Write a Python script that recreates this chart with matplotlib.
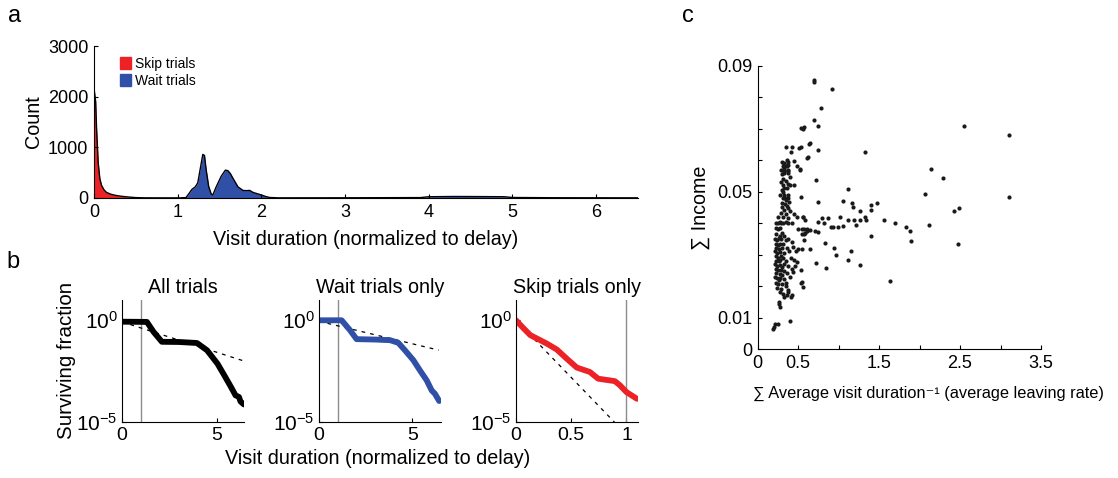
import numpy as np
import matplotlib
matplotlib.use("Agg")
import matplotlib.pyplot as plt
from matplotlib.patches import Patch

plt.rcParams['font.family'] = ['Liberation Sans', 'DejaVu Sans']
plt.rcParams['mathtext.default'] = 'regular'

W, H = 1118, 478

# --- panel a: histogram outlines (visit duration, count) ---
skip_x = [0, 0.005, 0.02, 0.03, 0.05, 0.07, 0.09, 0.12, 0.15, 0.2, 0.25, 0.3, 0.35, 0.42, 0.5, 0.6, 1.1]
skip_count = [2150, 2100, 1900, 1400, 700, 380, 250, 160, 110, 75, 55, 40, 30, 18, 8, 3, 2]

wait_x = [1.05, 1.10, 1.14, 1.17, 1.21, 1.24, 1.27, 1.30, 1.32, 1.34, 1.37, 1.40, 1.42, 1.46,
          1.52, 1.57, 1.60, 1.63, 1.66, 1.72, 1.78, 1.82, 1.86, 1.90, 1.95, 2.0, 2.05, 2.1,
          2.2, 3.0, 3.9, 4.0, 4.3, 4.6, 4.9, 5.0, 5.5, 6.5]
wait_count = [0, 10, 100, 170, 220, 300, 580, 860, 840, 560, 230, 80, 60, 220,
              430, 550, 540, 480, 390, 220, 150, 145, 150, 110, 85, 60, 30, 10,
              3, 4, 8, 25, 30, 28, 25, 10, 5, 3]

# --- panel b: survival curves (log10 surviving fraction) ---
all_x = [0, 1.31, 1.66, 2.10, 3.0, 3.95, 4.48, 5.03, 5.38, 5.74, 5.98, 6.16, 6.24, 6.42]
all_logy = [-0.07, -0.08, -0.57, -1.06, -1.07, -1.12, -1.48, -2.14, -2.70, -3.29, -3.70, -3.78, -4.0, -4.15]
all_fit_x = [0, 6.4]
all_fit_logy = [-0.08, -2.0]

wait_surv_x = [0, 1.21, 1.66, 2.01, 3.0, 3.80, 4.24, 4.6, 5.05, 5.4, 5.76, 6.03, 6.2, 6.43]
wait_surv_logy = [0.0, 0.0, -0.49, -0.93, -0.95, -0.98, -1.11, -1.48, -1.97, -2.47, -2.96, -3.46, -3.62, -3.98]
wait_fit_x = [0, 6.4]
wait_fit_logy = [-0.05, -1.47]

skip_surv_x = [0, 0.069, 0.129, 0.279, 0.369, 0.459, 0.55, 0.669, 0.744, 0.895, 0.94, 1.0, 1.095]
skip_surv_logy = [0.0, -0.40, -0.73, -1.15, -1.44, -1.89, -2.33, -2.55, -2.88, -3.0, -3.2, -3.54, -3.87]
skip_fit_x = [0, 1.1]
skip_fit_logy = [0.0, -6.2]

# --- panel c: income vs leaving rate ---
rate = [0.69, 0.69, 0.92, 0.78, 0.69, 0.75, 0.54, 0.56, 0.57, 2.55, 3.10,
        0.35, 0.42, 0.51, 0.53, 0.63, 0.64, 0.74, 1.33, 0.61, 0.62, 0.45, 2.14, 0.52, 2.29, 0.72,
        1.11, 2.07, 3.11, 0.53, 1.05, 1.16, 1.48, 1.40, 0.74, 1.18, 1.27, 1.40, 2.49, 2.43,
        1.02, 1.11, 1.19, 1.26, 1.33, 1.34, 0.79, 0.87, 0.56, 1.56, 1.70, 1.21, 1.05, 0.99,
        0.90, 0.93, 1.83, 1.88, 2.12, 0.82, 0.74, 0.61, 0.65, 0.71, 0.75, 0.58, 1.40, 1.89,
        0.83, 2.47, 0.57, 0.55, 0.65, 0.94, 1.15, 0.97, 0.72, 1.12, 1.26, 0.84, 1.63, 0.54,
        0.56, 0.40,
        0.50, 0.55, 0.57, 0.61, 0.55, 0.57, 0.50, 0.47, 0.49, 0.53, 0.55, 0.37, 0.37, 0.36,
        0.42, 0.26, 0.26, 0.27, 0.21, 0.25, 0.20, 0.19,
        0.33, 0.33, 0.34, 0.33, 0.33, 0.32, 0.33, 0.37, 0.37, 0.38, 0.49, 0.52, 0.41, 0.45,
        0.40, 0.35, 0.37, 0.40, 0.36, 0.31, 0.31, 0.32, 0.34, 0.38, 0.37,
        0.35, 0.39, 0.30, 0.34, 0.36, 0.30, 0.38, 0.32, 0.29, 0.40, 0.35, 0.25, 0.31, 0.38,
        0.27, 0.22, 0.29, 0.35, 0.45, 0.49, 0.56, 0.58, 0.25, 0.31, 0.37, 0.42,
        0.22, 0.25, 0.28, 0.30, 0.23, 0.27, 0.33, 0.21, 0.24, 0.26, 0.29, 0.35, 0.38, 0.22,
        0.25, 0.28, 0.31, 0.42, 0.23, 0.26, 0.30, 0.36, 0.44, 0.21, 0.24, 0.27, 0.33, 0.39,
        0.22, 0.25, 0.29, 0.31, 0.41, 0.23, 0.26, 0.28, 0.35, 0.45, 0.21, 0.24, 0.27, 0.30,
        0.33, 0.38, 0.22, 0.25, 0.29, 0.32, 0.42, 0.23, 0.27, 0.30, 0.36, 0.21, 0.24, 0.26,
        0.28, 0.33, 0.40, 0.22, 0.25, 0.30, 0.35, 0.24, 0.29, 0.27, 0.31, 0.33, 0.41, 0.35,
        0.44, 0.46,
        0.30, 0.31, 0.29, 0.32, 0.30, 0.31, 0.29, 0.32, 0.30, 0.28, 0.31, 0.36, 0.37, 0.38, 0.36]
income = [0.0855, 0.0848, 0.0826, 0.0765, 0.0727, 0.0709, 0.0702, 0.0698, 0.0705, 0.0709, 0.0681,
          0.0643, 0.0643, 0.0637, 0.0642, 0.0650, 0.0653, 0.0632, 0.0625, 0.0606, 0.0609, 0.0598,
          0.0571, 0.0572, 0.0543, 0.0537,
          0.0509, 0.0492, 0.0482, 0.0482, 0.0471, 0.0465, 0.0465, 0.0458, 0.0466, 0.0450, 0.0437,
          0.0442, 0.0448, 0.0438,
          0.0420, 0.0410, 0.0410, 0.0410, 0.0420, 0.0410, 0.0415, 0.0415, 0.0420, 0.0410, 0.0399,
          0.0393, 0.0390, 0.0389,
          0.0386, 0.0386, 0.0388, 0.0376, 0.0393, 0.0399, 0.0403, 0.0376, 0.0378, 0.0376, 0.0373,
          0.0370, 0.0360, 0.0344,
          0.0338, 0.0332, 0.0346, 0.0317, 0.0317, 0.0320, 0.0310, 0.0298, 0.0272, 0.0283, 0.0266,
          0.0256, 0.0216, 0.0211,
          0.0196, 0.0089,
          0.0380, 0.0380, 0.0380, 0.0380, 0.0365, 0.0365, 0.0318, 0.0310, 0.0275, 0.0250, 0.0213,
          0.0187, 0.0180, 0.0172,
          0.0170, 0.0150, 0.0142, 0.0133, 0.0080, 0.0078, 0.0070, 0.0062,
          0.0590, 0.0587, 0.0580, 0.0575, 0.0570, 0.0565, 0.0560, 0.0570, 0.0565, 0.0560, 0.0580,
          0.0570, 0.0626, 0.0520,
          0.0545, 0.0535, 0.0525, 0.0520, 0.0510, 0.0520, 0.0500, 0.0490, 0.0480, 0.0490, 0.0480,
          0.0472, 0.0467, 0.0465, 0.0460, 0.0455, 0.0450, 0.0447, 0.0443, 0.0433, 0.0437, 0.0430,
          0.0420, 0.0418, 0.0415,
          0.0405, 0.0400, 0.0400, 0.0405, 0.0430, 0.0420, 0.0420, 0.0410, 0.0400, 0.0400, 0.0400,
          0.0400,
          0.0385, 0.0380, 0.0385, 0.0370, 0.0365, 0.0360, 0.0360, 0.0350, 0.0345, 0.0352, 0.0348,
          0.0345, 0.0350, 0.0335,
          0.0330, 0.0333, 0.0335, 0.0340, 0.0320, 0.0318, 0.0320, 0.0322, 0.0325, 0.0310, 0.0305,
          0.0308, 0.0305, 0.0310,
          0.0295, 0.0290, 0.0295, 0.0288, 0.0290, 0.0280, 0.0278, 0.0282, 0.0280, 0.0282, 0.0270,
          0.0265, 0.0268, 0.0262,
          0.0270, 0.0265, 0.0255, 0.0250, 0.0252, 0.0248, 0.0255, 0.0240, 0.0238, 0.0235, 0.0240,
          0.0228, 0.0225, 0.0220,
          0.0225, 0.0222, 0.0228, 0.0210, 0.0205, 0.0208, 0.0210, 0.0195, 0.0192, 0.0180, 0.0175,
          0.0165, 0.0165, 0.0200,
          0.0245, 0.0265,
          0.0595, 0.0580, 0.0570, 0.0565, 0.0555, 0.0540, 0.0530, 0.0510, 0.0505, 0.0490, 0.0480,
          0.0600, 0.0585, 0.0595, 0.0580]

RED = '#ec2227'
BLUE = '#3050a8'
LABEL_FS = 14.2


def px_axes(fig, left, top, right, bottom):
    return fig.add_axes([left / W, 1 - bottom / H, (right - left) / W, (bottom - top) / H])


def style_axes(ax, size=13):
    for s in ['top', 'right']:
        ax.spines[s].set_visible(False)
    ax.tick_params(direction='in', length=3, width=0.8, labelsize=size, pad=4)


fig = plt.figure(figsize=(W / 100, H / 100), dpi=100)

# ---------- panel a ----------
ax = px_axes(fig, 94, 46, 638, 198)
ax.fill_between(skip_x, skip_count, color=RED, lw=0)
ax.fill_between(wait_x, wait_count, color=BLUE, lw=0)
ax.plot(skip_x, skip_count, color='black', lw=1)
ax.plot(wait_x, wait_count, color='black', lw=1)
ax.set_xlim(0, 6.5)
ax.set_ylim(0, 3000)
ax.set_xticks([0, 1, 2, 3, 4, 5, 6])
ax.set_yticks([0, 1000, 2000, 3000])
style_axes(ax)
ax.set_ylabel('Count', fontsize=LABEL_FS, labelpad=4)
ax.set_xlabel('Visit duration (normalized to delay)', fontsize=LABEL_FS, labelpad=7)
ax.legend(handles=[Patch(color=RED, label='Skip trials'), Patch(color=BLUE, label='Wait trials')],
          loc='upper left', bbox_to_anchor=(0.025, 1.01), frameon=False, fontsize=10,
          handlelength=0.75, handleheight=0.95, handletextpad=0.35, labelspacing=0.2)

# ---------- panel b ----------
b_specs = [
    (122, 'All trials', all_x, all_logy, all_fit_x, all_fit_logy, 'black', (0, 6.4), [0, 5]),
    (319, 'Wait trials only', wait_surv_x, wait_surv_logy, wait_fit_x, wait_fit_logy, BLUE, (0, 6.5), [0, 5]),
    (516, 'Skip trials only', skip_surv_x, skip_surv_logy, skip_fit_x, skip_fit_logy, RED, (0, 1.1), [0, 0.5, 1]),
]
for i, (left, title, cx, cly, fx, fly, col, xl, xt) in enumerate(b_specs):
    axb = px_axes(fig, left, 300, left + 121.5, 421.7)
    axb.set_yscale('log')
    axb.axvline(1, color='0.55', lw=1)
    axb.plot(fx, 10 ** np.array(fly), color='black', ls=(0, (3, 4)), lw=0.9)
    axb.plot(cx, 10 ** np.array(cly), color=col, lw=4.2, solid_capstyle='round', solid_joinstyle='round')
    axb.set_xlim(*xl)
    axb.set_ylim(1e-5, 10)
    axb.set_xticks(xt)
    axb.set_xticklabels(['%g' % v for v in xt])
    axb.set_yticks([1e-5, 1])
    axb.set_yticklabels([r'$10^{-5}$', r'$10^{0}$'])
    axb.yaxis.set_minor_locator(matplotlib.ticker.NullLocator())
    style_axes(axb, size=14)
    axb.tick_params(axis='y', labelsize=15, pad=3)
    axb.set_title(title, fontsize=LABEL_FS, pad=5)
    if i == 0:
        axb.set_ylabel('Surviving fraction', fontsize=14.8, labelpad=0)

fig.text(378 / W, 1 - 459 / H, 'Visit duration (normalized to delay)', fontsize=LABEL_FS, ha='center', va='center')

# ---------- panel c ----------
axc = px_axes(fig, 757.7, 65.7, 1041, 349)
axc.scatter(rate, income, s=9, color='#1a1a1a', lw=0)
axc.set_xlim(0, 3.5)
axc.set_ylim(0, 0.09)
axc.set_xticks([0, 0.5, 1, 1.5, 2, 2.5, 3, 3.5])
axc.set_xticklabels(['0', '0.5', '', '1.5', '', '2.5', '', '3.5'])
axc.set_yticks(np.arange(10) * 0.01)
axc.set_yticklabels(['0', '0.01', '', '', '', '0.05', '', '', '', '0.09'])
style_axes(axc)
axc.set_ylabel('\u2211 Income', fontsize=LABEL_FS, labelpad=5)
fig.text(753 / W, 1 - 393 / H, '\u2211 Average visit duration\u207b\u00b9 (average leaving rate)',
         fontsize=11.8, ha='left', va='center')

# panel letters
for txt, x, y in [('a', 15, 16), ('b', 13, 262), ('c', 688, 16)]:
    fig.text(x / W, 1 - y / H, txt, fontsize=17, ha='center', va='center')

fig.savefig('out.png', dpi=100)
